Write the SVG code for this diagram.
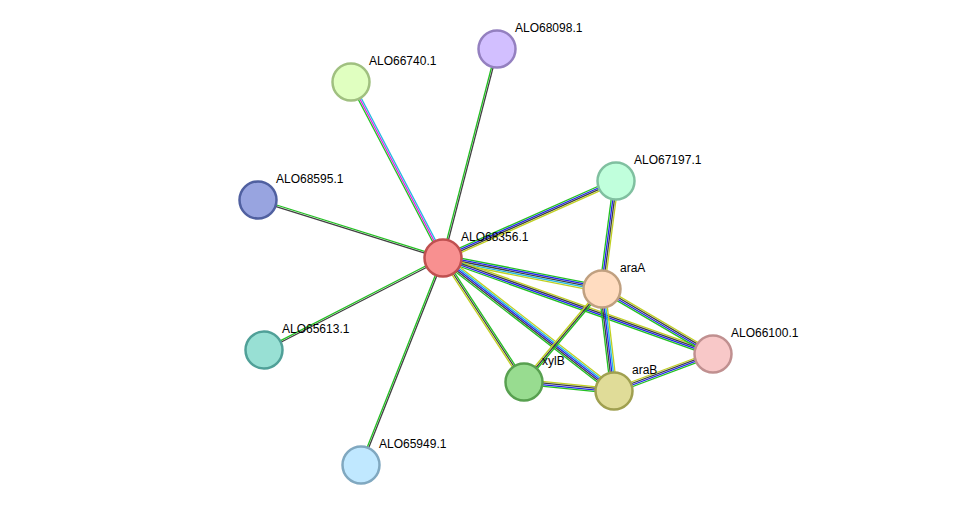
<svg xmlns="http://www.w3.org/2000/svg" width="975" height="511" viewBox="0 0 975 511">
<style>
line{stroke-width:1.3;fill:none}
.g{stroke:#22c022}.k{stroke:#404040}.b{stroke:#2222ee}.c{stroke:#22b8e0}.y{stroke:#c0d020}.m{stroke:#e020e0}
circle{stroke-width:2.5}
text{font-family:"Liberation Sans",Arial,sans-serif;font-size:12px;fill:#000}
</style>
<rect width="975" height="511" fill="#fff"/>
<g id="edges">
<g transform="translate(443,258) rotate(-75.5)"><line class="g" x1="0" y1="-0.8" x2="215.9" y2="-0.8"/><line class="k" x1="0" y1="0.8" x2="215.9" y2="0.8"/></g>
<g transform="translate(443,258) rotate(-117.6)"><line class="g" x1="0" y1="-1.6" x2="198.6" y2="-1.6"/><line class="m" x1="0" y1="0" x2="198.6" y2="0"/><line class="c" x1="0" y1="1.6" x2="198.6" y2="1.6"/></g>
<g transform="translate(443,258) rotate(-162.6)"><line class="k" x1="0" y1="-0.8" x2="193.9" y2="-0.8"/><line class="g" x1="0" y1="0.8" x2="193.9" y2="0.8"/></g>
<g transform="translate(443,258) rotate(152.8)"><line class="k" x1="0" y1="-0.8" x2="201.3" y2="-0.8"/><line class="g" x1="0" y1="0.8" x2="201.3" y2="0.8"/></g>
<g transform="translate(443,258) rotate(111.6)"><line class="k" x1="0" y1="-0.8" x2="222.7" y2="-0.8"/><line class="g" x1="0" y1="0.8" x2="222.7" y2="0.8"/></g>
<g transform="translate(443,258) rotate(-24)"><line class="g" x1="0" y1="-2.4" x2="189.4" y2="-2.4"/><line class="b" x1="0" y1="-0.8" x2="189.4" y2="-0.8"/><line class="k" x1="0" y1="0.8" x2="189.4" y2="0.8"/><line class="y" x1="0" y1="2.4" x2="189.4" y2="2.4"/></g>
<g transform="translate(443,258) rotate(11)"><line class="g" x1="0" y1="-3.2" x2="162" y2="-3.2"/><line class="b" x1="0" y1="-1.6" x2="162" y2="-1.6"/><line class="k" x1="0" y1="0" x2="162" y2="0"/><line class="c" x1="0" y1="1.6" x2="162" y2="1.6"/><line class="y" x1="0" y1="3.2" x2="162" y2="3.2"/></g>
<g transform="translate(443,258) rotate(19.6)"><line class="y" x1="0" y1="-2.4" x2="286.6" y2="-2.4"/><line class="k" x1="0" y1="-0.8" x2="286.6" y2="-0.8"/><line class="b" x1="0" y1="0.8" x2="286.6" y2="0.8"/><line class="g" x1="0" y1="2.4" x2="286.6" y2="2.4"/></g>
<g transform="translate(443,258) rotate(37.9)"><line class="y" x1="0" y1="-3.2" x2="216.6" y2="-3.2"/><line class="c" x1="0" y1="-1.6" x2="216.6" y2="-1.6"/><line class="b" x1="0" y1="0" x2="216.6" y2="0"/><line class="k" x1="0" y1="1.6" x2="216.6" y2="1.6"/><line class="g" x1="0" y1="3.2" x2="216.6" y2="3.2"/></g>
<g transform="translate(443,258) rotate(56.8)"><line class="g" x1="0" y1="-1.6" x2="148.1" y2="-1.6"/><line class="k" x1="0" y1="0" x2="148.1" y2="0"/><line class="y" x1="0" y1="1.6" x2="148.1" y2="1.6"/></g>
<g transform="translate(616,181) rotate(97.4)"><line class="y" x1="0" y1="-2.4" x2="108.9" y2="-2.4"/><line class="k" x1="0" y1="-0.8" x2="108.9" y2="-0.8"/><line class="b" x1="0" y1="0.8" x2="108.9" y2="0.8"/><line class="g" x1="0" y1="2.4" x2="108.9" y2="2.4"/></g>
<g transform="translate(602,289) rotate(30.4)"><line class="y" x1="0" y1="-2.4" x2="128.6" y2="-2.4"/><line class="k" x1="0" y1="-0.8" x2="128.6" y2="-0.8"/><line class="b" x1="0" y1="0.8" x2="128.6" y2="0.8"/><line class="g" x1="0" y1="2.4" x2="128.6" y2="2.4"/></g>
<g transform="translate(602,289) rotate(83.3)"><line class="y" x1="0" y1="-3.2" x2="102.7" y2="-3.2"/><line class="c" x1="0" y1="-1.6" x2="102.7" y2="-1.6"/><line class="b" x1="0" y1="0" x2="102.7" y2="0"/><line class="k" x1="0" y1="1.6" x2="102.7" y2="1.6"/><line class="g" x1="0" y1="3.2" x2="102.7" y2="3.2"/></g>
<g transform="translate(602,289) rotate(130)"><line class="g" x1="0" y1="-1.6" x2="121.4" y2="-1.6"/><line class="k" x1="0" y1="0" x2="121.4" y2="0"/><line class="y" x1="0" y1="1.6" x2="121.4" y2="1.6"/></g>
<g transform="translate(614,391) rotate(-20.5)"><line class="y" x1="0" y1="-2.4" x2="105.7" y2="-2.4"/><line class="k" x1="0" y1="-0.8" x2="105.7" y2="-0.8"/><line class="b" x1="0" y1="0.8" x2="105.7" y2="0.8"/><line class="g" x1="0" y1="2.4" x2="105.7" y2="2.4"/></g>
<g transform="translate(524,382) rotate(5.7)"><line class="y" x1="0" y1="-2.4" x2="90.4" y2="-2.4"/><line class="k" x1="0" y1="-0.8" x2="90.4" y2="-0.8"/><line class="b" x1="0" y1="0.8" x2="90.4" y2="0.8"/><line class="g" x1="0" y1="2.4" x2="90.4" y2="2.4"/></g>
</g>
<g id="ALO68098.1"><circle cx="497" cy="49" r="18.5" fill="#d2bfff" stroke="#9480c0"/><text x="515" y="32">ALO68098.1</text></g>
<g id="ALO66740.1"><circle cx="351" cy="82" r="18.5" fill="#e0ffc0" stroke="#a0c080"/><text x="369" y="65">ALO66740.1</text></g>
<g id="ALO68595.1"><circle cx="258" cy="200" r="18.5" fill="#98a4e0" stroke="#5060a0"/><text x="276" y="183">ALO68595.1</text></g>
<g id="ALO65613.1"><circle cx="264" cy="350" r="18.5" fill="#98e0d4" stroke="#50a098"/><text x="282" y="333">ALO65613.1</text></g>
<g id="ALO65949.1"><circle cx="361" cy="465" r="18.5" fill="#c0e8ff" stroke="#80a8c0"/><text x="379" y="448">ALO65949.1</text></g>
<g id="ALO67197.1"><circle cx="616" cy="181" r="18.5" fill="#c0ffdc" stroke="#80c0a0"/><text x="634" y="164">ALO67197.1</text></g>
<g id="ALO66100.1"><circle cx="713" cy="354" r="18.5" fill="#f8c8c8" stroke="#c09090"/><text x="731" y="337">ALO66100.1</text></g>
<g id="araA"><circle cx="602" cy="289" r="18.5" fill="#ffdcc0" stroke="#c0a080"/><text x="620" y="272">araA</text></g>
<g id="araB"><circle cx="614" cy="391" r="18.5" fill="#e0dc98" stroke="#a0a050"/><text x="632" y="374">araB</text></g>
<g id="xylB"><circle cx="524" cy="382" r="18.5" fill="#98dc90" stroke="#58a050"/><text x="542" y="365">xylB</text></g>
<g id="ALO68356.1"><circle cx="443" cy="258" r="18.5" fill="#f89090" stroke="#c05050"/><text x="461" y="241">ALO68356.1</text></g>
</svg>
